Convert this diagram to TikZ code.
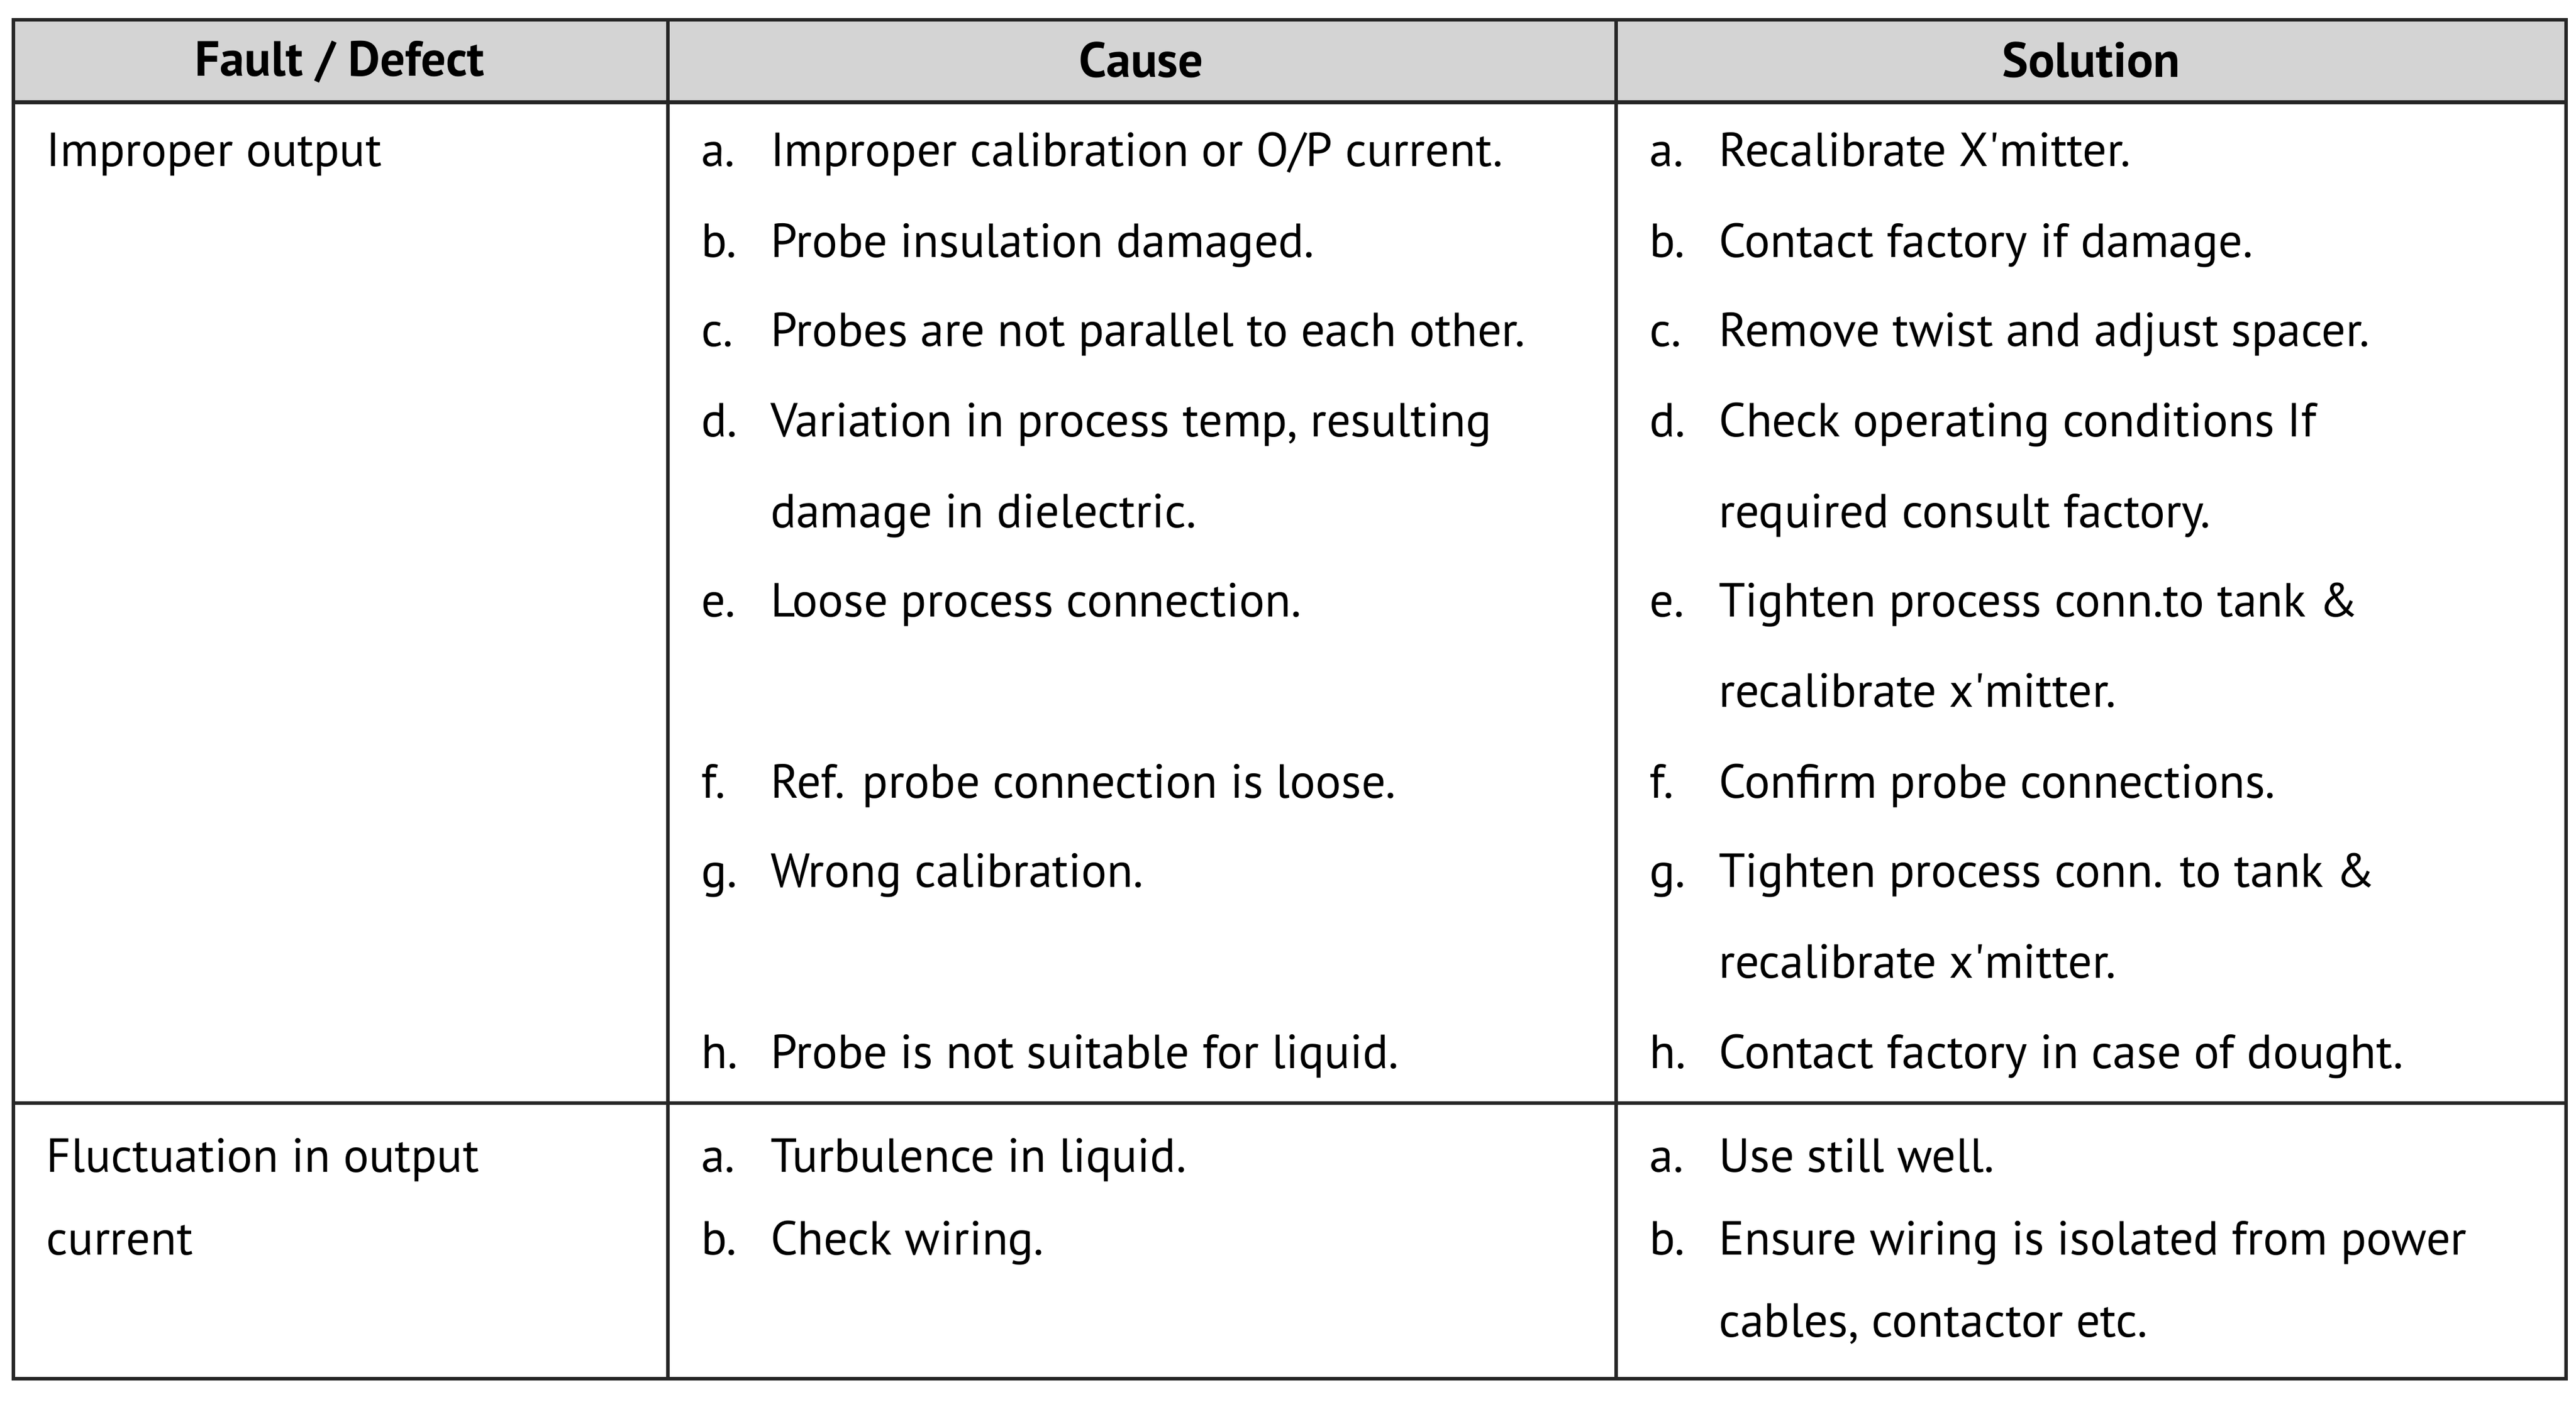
\documentclass[tikz,border=0pt]{standalone}
\usepackage{fontspec}
\setmainfont{PT Sans}
\newcommand{\ap}{\textquotesingle}
\begin{document}
\begin{tikzpicture}[x=1pt,y=-1pt,
  txt/.style={anchor=base west,inner sep=0pt,font=\fontsize{29}{32}\selectfont},
  hd/.style={anchor=base,inner sep=0pt,font=\bfseries\fontsize{30}{32}\selectfont},
  rule/.style={line width=2.2pt,black!85}]
\useasboundingbox (0,0) rectangle (1562,850);
\fill[black!17] (8,12) rectangle (1556,62);
\draw[rule] (8,12) rectangle (1556,836);
\draw[rule] (8,62) -- (1556,62);
\draw[rule] (8,669) -- (1556,669);
\draw[rule] (405,12) -- (405,836);
\draw[rule] (980,12) -- (980,836);
\node[hd] (h1) at (206,46) {Fault / Defect};
\node[hd] (h2) at (692,47) {Cause};
\node[hd] (h3) at (1268,47) {Solution};
\node[txt] (f1) at (28,101) {Improper output};
\node[txt] (f2) at (28,711) {Fluctuation in output};
\node[txt] (f3) at (28,761) {current};
\foreach \y/\l/\t in {101/a./{Improper calibration or O/P current.},156/b./{Probe insulation damaged.},210/c./{Probes are not parallel to each other.},265/d./{Variation in process temp, resulting},374/e./{Loose process connection.},484/f./{Ref. probe connection is loose.},538/g./{Wrong calibration.},648/h./{Probe is not suitable for liquid.},711/a./{Turbulence in liquid.},761/b./{Check wiring.}}{
  \node[txt] at (425,\y) {\l};
  \node[txt] at (467,\y) {\t};}
\node[txt] at (467,320) {damage in dielectric.};
\foreach \y/\l/\t in {101/a./{Recalibrate X\ap mitter.},156/b./{Contact factory if damage.},210/c./{Remove twist and adjust spacer.},265/d./{Check operating conditions If},374/e./{Tighten process conn.to tank \&},484/f./{Confirm probe connections.},538/g./{Tighten process conn. to tank \&},648/h./{Contact factory in case of dought.},711/a./{Use still well.},761/b./{Ensure wiring is isolated from power}}{
  \node[txt] at (1000,\y) {\l};
  \node[txt] at (1042,\y) {\t};}
\node[txt] at (1042,320) {required consult factory.};
\node[txt] at (1042,429) {recalibrate x\ap mitter.};
\node[txt] at (1042,593) {recalibrate x\ap mitter.};
\node[txt] at (1042,811) {cables, contactor etc.};
\end{tikzpicture}
\end{document}
